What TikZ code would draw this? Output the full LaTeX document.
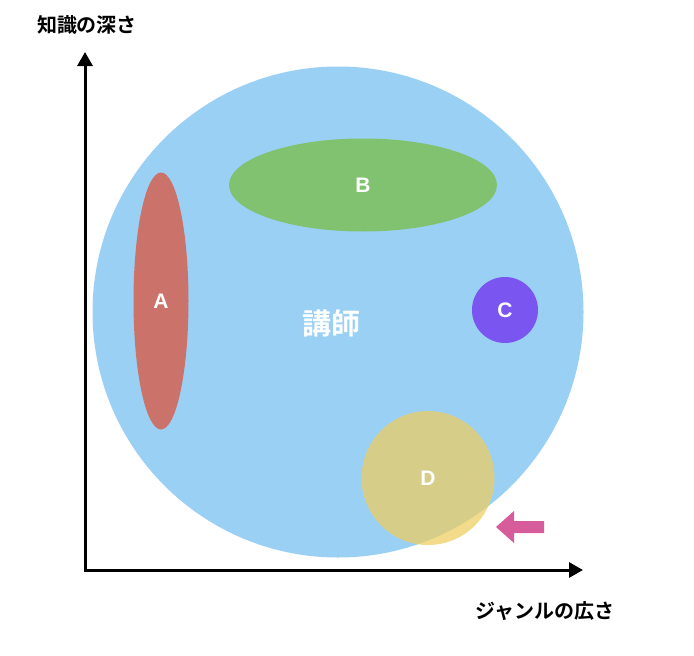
\documentclass[tikz,border=0pt]{standalone}
\usepackage{fontspec}
\setmainfont{Noto Sans CJK JP}[BoldFont={Noto Sans CJK JP Bold}]
\newfontfamily\latinfont{Liberation Sans}
\usetikzlibrary{arrows.meta, shapes.geometric}
\definecolor{skyblue}{RGB}{155,208,245}
\definecolor{brickred}{RGB}{203,115,107}
\definecolor{leafgreen}{RGB}{128,194,112}
\definecolor{violet}{RGB}{123,85,239}
\definecolor{sand}{RGB}{237,206,95}
\definecolor{rose}{RGB}{214,92,155}
\tikzset{
axis/.style={line width=3pt, line cap=rect, -{Triangle[length=14pt,width=15pt]}},
blob/.style={ellipse, inner sep=0pt, text=white, font=\latinfont\bfseries\fontsize{21}{21}\selectfont},
title/.style={font=\bfseries\fontsize{20}{20}\selectfont}
}
\begin{document}
\begin{tikzpicture}[x=1pt, y=-1pt]
\useasboundingbox (0,0) rectangle (694,656);
\node[circle, fill=skyblue, minimum size=491pt, inner sep=0pt] (teacher) at (338,312) {};
\node[text=white, font=\bfseries\fontsize{29}{29}\selectfont] (teachername) at (331,323) {講師};
\node[blob, fill=brickred, minimum width=55pt, minimum height=257pt] (A) at (161,301) {A};
\node[blob, fill=leafgreen, minimum width=268pt, minimum height=93pt] (B) at (363,185) {B};
\node[blob, fill=violet, minimum width=66pt, minimum height=66pt] (C) at (505,310) {C};
\node[blob, fill=sand, fill opacity=0.72, text opacity=1, minimum width=133pt, minimum height=134pt] (D) at (428,478) {D};
% axes
\coordinate (O) at (85,570);
\coordinate (xend) at (583,570);
\coordinate (yend) at (85,52);
\draw[axis] (O) -- (xend);
\draw[axis] (O) -- (yend);
\node[title] (ylabel) at (87,25) {知識の深さ};
\node[title] (xlabel) at (545,611) {ジャンルの広さ};
% pointer
\fill[rose] (496,527) -- (514,511) -- (514,521) -- (544,521) --
      (544,533) -- (514,533) -- (514,543) -- cycle;
\end{tikzpicture}
\end{document}
